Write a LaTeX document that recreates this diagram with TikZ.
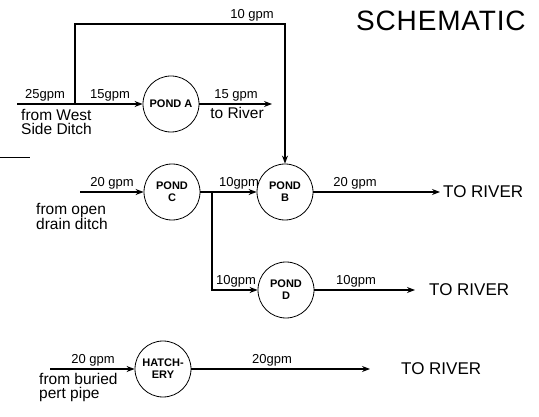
\documentclass[tikz,border=0pt]{standalone}
\usepackage{fontspec}
\setmainfont{Liberation Sans}
\usetikzlibrary{arrows.meta,positioning,calc}

\begin{document}
\begin{tikzpicture}[x=1pt,y=-1pt,
  pond/.style={draw,circle,line width=0.8pt,minimum size=56pt,inner sep=0pt,align=center,font=\fontsize{11}{12}\selectfont\bfseries},
  flow/.style={line width=1.2pt,-{Stealth[length=8pt,width=6pt]}},
  rate/.style={font=\fontsize{13}{14}\selectfont,inner sep=1pt,anchor=south},
  note/.style={font=\fontsize{15.5}{14}\selectfont,align=left,anchor=north west,inner sep=1pt},
  river/.style={font=\fontsize{17}{18}\selectfont,anchor=west,inner sep=1pt}]
\useasboundingbox (0,0) rectangle (539,417);

% title
\node[anchor=west,font=\fontsize{28}{30}\selectfont\addfontfeatures{LetterSpace=3},inner sep=0pt] (title) at (356,21) {SCHEMATIC};

% ponds
\node[pond] (pa) at (171,104) {POND A};
\node[pond] (pc) at (172,192) {POND\\C};
\node[pond] (pb) at (285,192) {POND\\B};
\node[pond] (pd) at (286,290) {POND\\D};
\node[pond] (hat) at (163,369) {HATCH-\\ERY};

% free ends
\coordinate (westin) at (17,104);
\coordinate (split) at (75,104);
\coordinate (topl) at (75,24);
\coordinate (topr) at (285,24);
\coordinate (aout) at (272,104);
\coordinate (ditchin) at (80,192);
\coordinate (tee) at (212,192);
\coordinate (teebot) at (212,290);
\coordinate (bout) at (440,192);
\coordinate (dout) at (415,290);
\coordinate (pipein) at (50,369);
\coordinate (hout) at (370,369);
\coordinate (strayl) at (0,157);
\coordinate (strayr) at (30,157);

% connectors
\draw[flow] (westin) -- (pa);
\draw[flow] (split) -- (topl) -- (topr) -- (pb);
\draw[flow] (pa) -- (aout);
\draw[flow] (ditchin) -- (pc);
\draw[flow] (pc) -- (pb);
\draw[flow] (tee) -- (teebot) -- (pd);
\draw[flow] (pb) -- (bout);
\draw[flow] (pd) -- (dout);
\draw[flow] (pipein) -- (hat);
\draw[flow] (hat) -- (hout);
\draw[line width=0.8pt] (strayl) -- (strayr);

% flow rates
\node[rate] (r25) at (45,102) {25gpm};
\node[rate] (r15in) at (110,102) {15gpm};
\node[rate] (r10top) at (252,22) {10 gpm};
\node[rate] (r15out) at (236,102) {15 gpm};
\node[rate] (r20c) at (112,190) {20 gpm};
\node[rate] (r10cb) at (239,190) {10gpm};
\node[rate] (r20b) at (355,190) {20 gpm};
\node[rate] (r10dn) at (236,288) {10gpm};
\node[rate] (r10dout) at (356,288) {10gpm};
\node[rate] (r20hin) at (93,367) {20 gpm};
\node[rate] (r20hout) at (272,367) {20gpm};

% sources and outlets
\node[note] (west) at (20,108) {from West\\Side Ditch};
\node[note,anchor=north] (riva) at (237,106) {to River};
\node[note] (drain) at (35,202) {from open\\drain ditch};
\node[note] (buried) at (38,372) {from buried\\pert pipe};
\node[river] (rivb) [right=2pt of bout] {TO RIVER};
\node[river] (rivd) [right=13pt of dout] {TO RIVER};
\node[river] (rivh) [right=30pt of hout] {TO RIVER};
\end{tikzpicture}
\end{document}
